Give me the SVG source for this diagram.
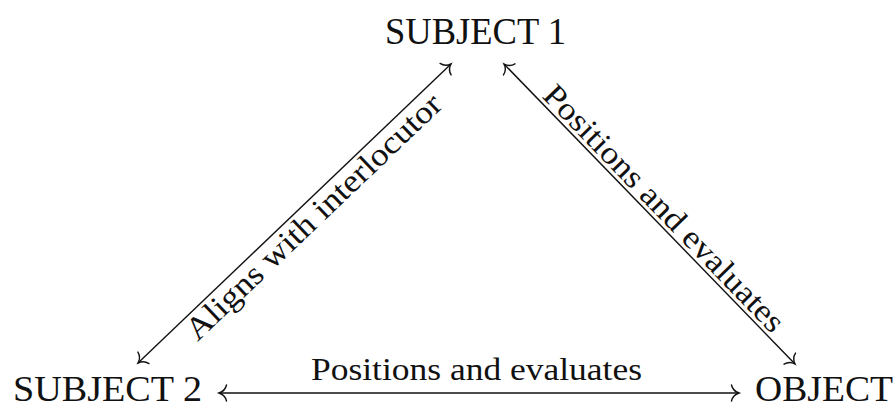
<svg xmlns="http://www.w3.org/2000/svg" width="896" height="408" viewBox="0 0 896 408">
  <style>
    .node { font-family: "Liberation Serif", "DejaVu Serif", serif; font-size: 37px; fill: #111; }
    .node.low { font-size: 36px; }
    .label { font-family: "Liberation Serif", "DejaVu Serif", serif; font-size: 32px; fill: #111; }
    .edge { stroke: #111; stroke-width: 1.4; fill: none; marker-start: url(#tip); marker-end: url(#tip); }
  </style>
  <defs>
    <!-- open curved arrow tip, drawn pointing along +x -->
    <marker id="tip" markerUnits="userSpaceOnUse" viewBox="-10 -10 12 20" refX="0" refY="0" markerWidth="12" markerHeight="20" orient="auto-start-reverse" overflow="visible">
      <path d="M -7.5 -8 C -6.5 -3.5, -2.5 -0.8, 0 0 C -2.5 0.8, -6.5 3.5, -7.5 8" fill="none" stroke="#111" stroke-width="1.4" stroke-linecap="round"/>
    </marker>
  </defs>

  <rect width="896" height="408" fill="#fff"/>

  <g id="connectors">
    <line class="edge" x1="138" y1="363" x2="451" y2="64"/>
    <line class="edge" x1="504" y1="64" x2="795" y2="364"/>
    <line class="edge" x1="219" y1="393" x2="739" y2="393"/>
    <text class="label" x="320.8" y="224.3" text-anchor="middle" textLength="341" lengthAdjust="spacingAndGlyphs" transform="rotate(-43.69 320.8 224.3)">Aligns with interlocutor</text>
    <text class="label" x="656.6" y="215.5" text-anchor="middle" textLength="331" lengthAdjust="spacingAndGlyphs" transform="rotate(45.87 656.6 215.5)">Positions and evaluates</text>
    <text class="label" x="476.5" y="380" text-anchor="middle" textLength="331" lengthAdjust="spacingAndGlyphs">Positions and evaluates</text>
  </g>

  <g id="subject1">
    <text class="node" x="475.5" y="44" text-anchor="middle" textLength="181" lengthAdjust="spacingAndGlyphs">SUBJECT 1</text>
  </g>
  <g id="subject2">
    <text class="node low" x="13" y="400.5" textLength="189" lengthAdjust="spacingAndGlyphs">SUBJECT 2</text>
  </g>
  <g id="object">
    <text class="node low" x="755" y="400.5" textLength="138" lengthAdjust="spacingAndGlyphs">OBJECT</text>
  </g>
</svg>
